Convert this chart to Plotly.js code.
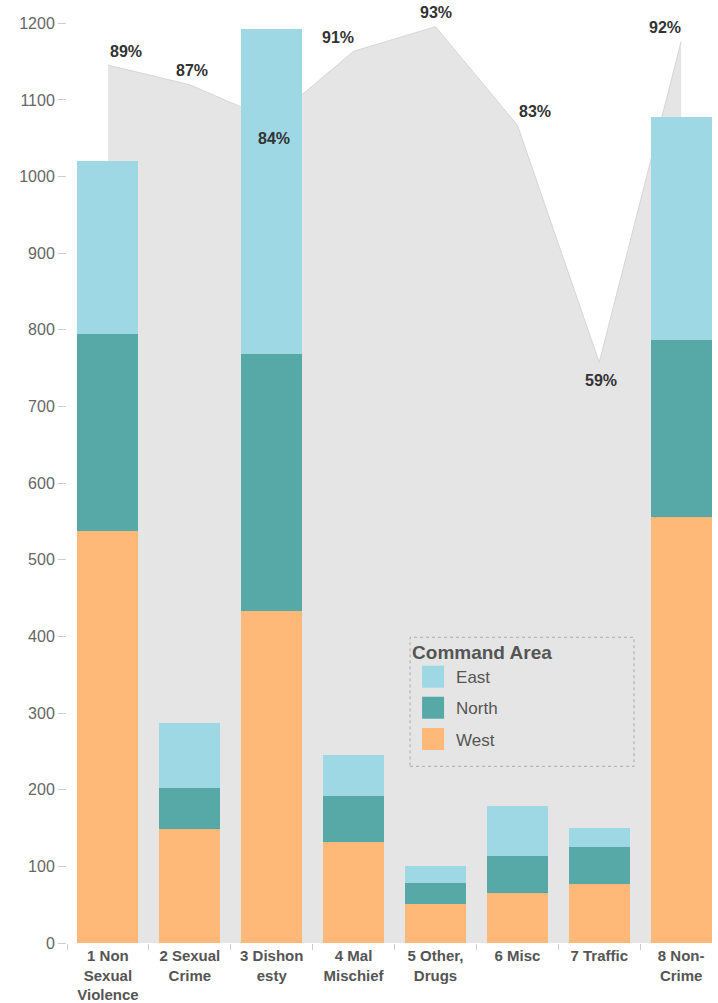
<!DOCTYPE html>
<html>
<head>
<meta charset="utf-8">
<script src="https://cdn.plot.ly/plotly-3.0.1.min.js"></script>
<style>html,body{margin:0;padding:0;background:#fff;} #chart{width:718px;height:1003px;}</style>
</head>
<body>
<div id="chart"></div>
<script>
// ---- data ----
const categories = ['1 Non<br>Sexual<br>Violence', '2 Sexual<br>Crime', '3 Dishon<br>esty', '4 Mal<br>Mischief', '5 Other,<br>Drugs', '6 Misc', '7 Traffic', '8 Non-<br>Crime'];
const west  = [537, 149, 433, 132, 51, 65, 77, 556];
const north = [257, 53, 336, 60, 27, 49, 48, 231];
const east  = [226, 85, 424, 53, 22, 65, 25, 291];
const pctResolved = [89.2, 87.2, 83.6, 90.6, 93.1, 83.1, 59.0, 91.6];
const seriesNames = ['West', 'North', 'East'];
const legendOrder = [3, 2, 1];

// ---- styling (label placement only) ----
const labelBelow = [false, false, true, false, false, false, true, false];
const labelXShift = [18, 2, 2, -16, 1, 18, 2, -16];

const FONT = 'Liberation Sans, Arial, sans-serif';
const colors = {West: '#FEB877', North: '#57A9A8', East: '#9ED8E4'};

const area = {
  x: categories, y: pctResolved, type: 'scatter', mode: 'lines',
  fill: 'tozeroy', fillcolor: '#E5E5E5',
  line: {color: '#D6D6D6', width: 1},
  xaxis: 'x', yaxis: 'y', showlegend: false, hoverinfo: 'skip'
};

const bars = [west, north, east].map((vals, i) => ({
  x: categories, y: vals, type: 'bar', name: seriesNames[i],
  legendgroup: seriesNames[i], legendrank: legendOrder[i],
  marker: {color: colors[seriesNames[i]], line: {width: 0}},
  xaxis: 'x', yaxis: 'y2'
}));

const annotations = pctResolved.map((p, i) => ({
  x: categories[i], y: p, xref: 'x', yref: 'y',
  text: Math.round(p) + '%', showarrow: false,
  yanchor: 'middle', xanchor: 'center',
  yshift: labelBelow[i] ? -18 : 14, xshift: labelXShift[i],
  font: {family: FONT, size: 16, color: '#333', weight: 'bold'}
}));

const layout = {
  width: 718, height: 1003,
  margin: {l: 67, r: 0, t: 8, b: 60},
  paper_bgcolor: '#fff', plot_bgcolor: 'rgba(0,0,0,0)',
  barmode: 'stack', bargap: 0.255,
  font: {family: FONT},
  xaxis: {
    type: 'category', range: [-0.5, 7.45],
    tickson: 'boundaries', ticks: 'outside', ticklen: 6, tickcolor: '#CCCCCC',
    showline: false, showgrid: false, zeroline: false,
    ticklabelstandoff: 2,
    tickfont: {family: FONT, size: 15, color: '#555', weight: 'bold'}
  },
  yaxis: {range: [0, 95.0], visible: false, showgrid: false, zeroline: false},
  yaxis2: {
    overlaying: 'y', side: 'left', range: [0, 1220],
    tickmode: 'linear', tick0: 0, dtick: 100,
    ticks: 'outside', ticklen: 8, tickcolor: '#CCCCCC',
    showgrid: false, zeroline: false, showline: false,
    tickfont: {family: FONT, size: 16, color: '#666'}
  },
  legend: {
    x: 0.527, y: 0.330, xanchor: 'left', yanchor: 'top',
    bgcolor: 'rgba(0,0,0,0)', borderwidth: 0,
    traceorder: 'grouped', tracegroupgap: 6,
    itemwidth: 36,
    title: {text: 'Command Area', font: {family: FONT, size: 19, color: '#555', weight: 'bold'}},
    font: {family: FONT, size: 17, color: '#555'}
  },
  shapes: [{
    type: 'rect', xref: 'paper', yref: 'paper',
    x0: 0.527, x1: 0.871, y0: 0.189, y1: 0.327,
    line: {color: '#AAAAAA', width: 1, dash: 'dot'}, fillcolor: 'rgba(0,0,0,0)',
    layer: 'above'
  }],
  annotations: annotations,
  showlegend: true
};

Plotly.newPlot('chart', [area].concat(bars), layout, {displayModeBar: false, staticPlot: true}).then(gd => {
  gd.querySelectorAll('.legend .legendpoints path').forEach(p => p.setAttribute('d', 'M11,11H-11V-11H11Z'));
});
</script>
</body>
</html>
